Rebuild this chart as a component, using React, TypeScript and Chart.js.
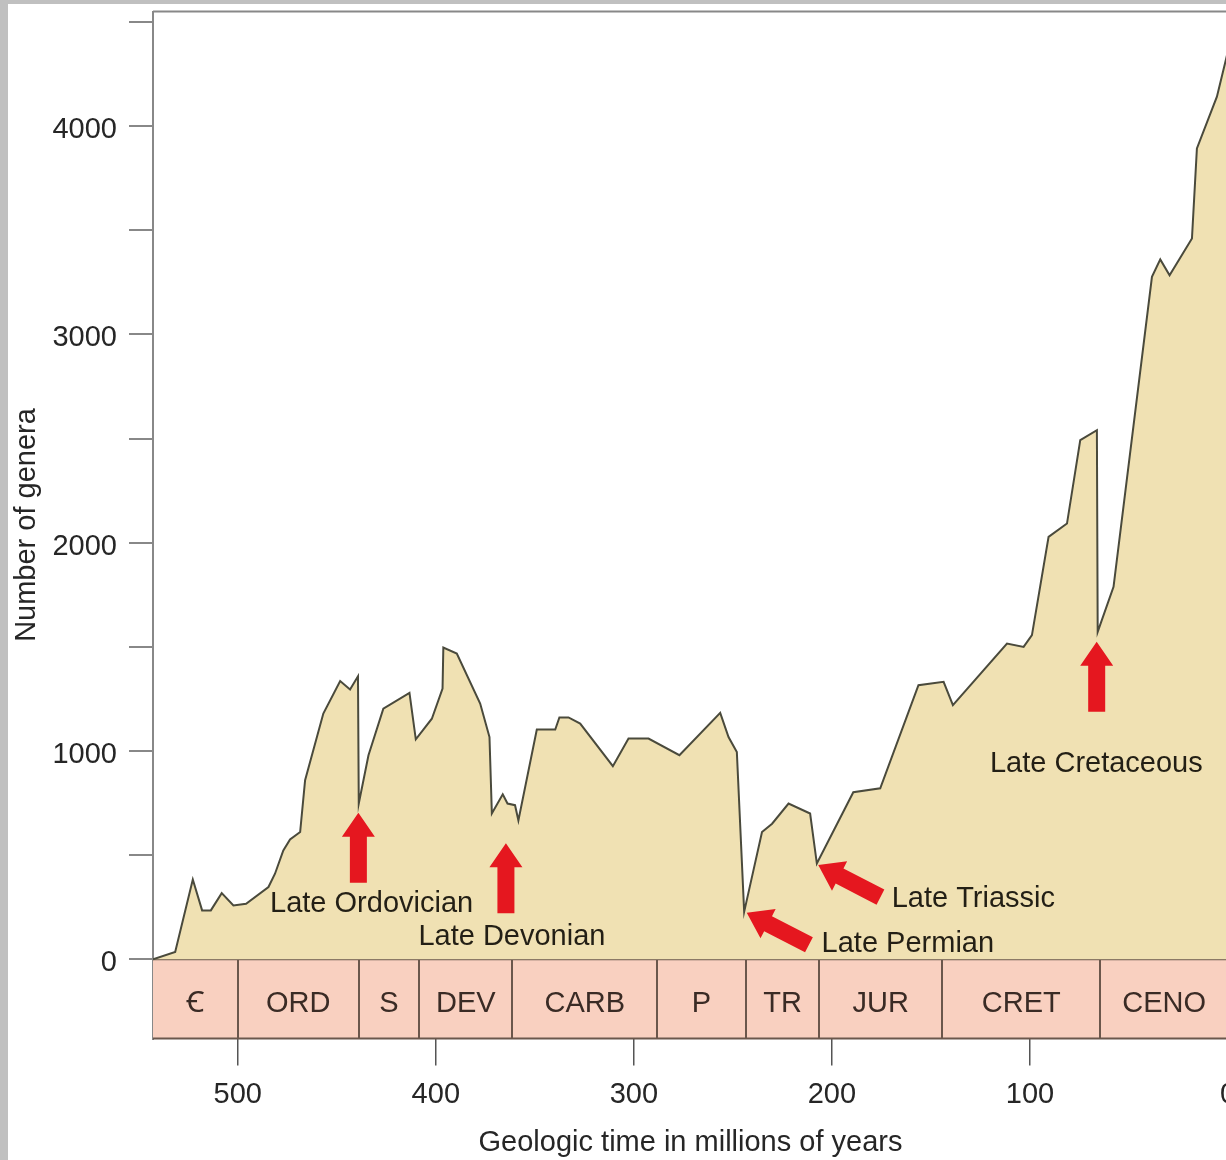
import React, { useEffect, useRef } from 'react';
import { Chart, registerables } from 'chart.js';

Chart.register(...registerables);

// ---- data (millions of years ago, number of genera) ----
const ageMa = [
  542.8, 531.6, 522.7, 518, 513.6, 508.1, 502.2, 495.8, 484.5, 481.2, 477, 473.6, 468.5, 466,
  456.8, 448.3, 443.3, 439.3, 438.9, 434, 426.5, 413.3, 410.1, 402, 396.6, 396.2, 389.4, 377.6,
  372.9, 371.7, 366.2, 363.8, 360, 358.3, 349, 339.7, 337.6, 333, 327.1, 310.6, 302.7, 292.6,
  277, 256.4, 252.2, 248, 244.3, 235.3, 230.2, 221.9, 211, 207.6, 189.2, 175.6, 156.3, 143.6,
  138.9, 111.6, 103.2, 99, 90.6, 81.3, 74.6, 66.2, 65.8, 57.8, 38.4, 34.2, 29.5, 18.2, 15.7,
  5.6, 0,
];
const genera = [
  0, 35, 383, 235, 235, 318, 259, 267, 347, 411, 523, 575, 611, 860,
  1180, 1336, 1295, 1359, 748, 980, 1203, 1279, 1056, 1155, 1300, 1497, 1468, 1228,
  1067, 700, 792, 748, 740, 667, 1103, 1103, 1161, 1161, 1132, 927, 1060, 1060,
  980, 1183, 1067, 995, 228, 611, 651, 748, 700, 460, 802, 821, 1316, 1332,
  1220, 1516, 1500, 1556, 2028, 2092, 2492, 2540, 1572, 1788, 3276, 3360, 3284, 3460, 3893,
  4141, 4360,
];

// geologic periods (boundaries in Ma, oldest first)
const periodBounds = [542.8, 500, 439, 408.3, 361.4, 288.2, 243.5, 206.4, 144.3, 64.5, 0];
const periodLabels = ['Ꞓ', 'ORD', 'S', 'DEV', 'CARB', 'P', 'TR', 'JUR', 'CRET', 'CENO'];

// axis ticks
const xTickValues = [0, 100, 200, 300, 400, 500];
const yTickValues = [0, 500, 1000, 1500, 2000, 2500, 3000, 3500, 4000, 4500];

// mass extinction events
const eventNames = ['Late Ordovician', 'Late Devonian', 'Late Permian', 'Late Triassic', 'Late Cretaceous'];
const eventTipMa = [439.1, 364.6, 243.0, 206.9, 66.3];
const eventTipGenera = [704, 557, 224, 453, 1525];
const eventLabelMa = [483.7, 408.8, 205.2, 169.8, 120.2];
const eventLabelGenera = [227, 69, 37, 253, 901];

const FONT = '"Liberation Sans", Arial, Helvetica, "Noto Sans", "DejaVu Sans", sans-serif';
const TEXT = '#262626';

function drawArrow(ctx: CanvasRenderingContext2D, tx: number, ty: number, dx: number, dy: number) {
  const L = 70, HL = 24, HW = 16.5, SW = 8.5;
  const px = -dy, py = dx;
  const bx = tx - dx * HL, by = ty - dy * HL;
  const ex = tx - dx * L, ey = ty - dy * L;
  ctx.beginPath();
  ctx.moveTo(tx, ty);
  ctx.lineTo(bx + px * HW, by + py * HW);
  ctx.lineTo(bx + px * SW, by + py * SW);
  ctx.lineTo(ex + px * SW, ey + py * SW);
  ctx.lineTo(ex - px * SW, ey - py * SW);
  ctx.lineTo(bx - px * SW, by - py * SW);
  ctx.lineTo(bx - px * HW, by - py * HW);
  ctx.closePath();
  ctx.fill();
}

const decorPlugin = {
  id: 'decor',
  beforeDatasetsDraw(chart: any) {
    const { ctx, chartArea, scales } = chart;
    const x = scales.x, y = scales.y;
    const top = y.getPixelForValue(0);
    const bottom = chartArea.bottom;
    ctx.save();
    // period boxes
    for (let i = 0; i < periodLabels.length; i++) {
      const x0 = x.getPixelForValue(periodBounds[i]);
      const x1 = x.getPixelForValue(periodBounds[i + 1]);
      ctx.fillStyle = '#f9d0c0';
      ctx.fillRect(x0, top, x1 - x0, bottom - top);
    }
    ctx.strokeStyle = '#6b574c';
    ctx.lineWidth = 2;
    ctx.beginPath();
    ctx.moveTo(chartArea.left, top);
    ctx.lineTo(chartArea.right, top);
    ctx.moveTo(chartArea.left, bottom);
    ctx.lineTo(chartArea.right, bottom);
    for (let i = 1; i < periodBounds.length; i++) {
      const xb = Math.round(x.getPixelForValue(periodBounds[i]));
      ctx.moveTo(xb, top);
      ctx.lineTo(xb, bottom);
    }
    ctx.stroke();
    ctx.fillStyle = '#3a2b25';
    ctx.font = `29px ${FONT}`;
    ctx.textAlign = 'center';
    ctx.textBaseline = 'alphabetic';
    const base = top + (bottom - top) * 0.67;
    for (let i = 0; i < periodLabels.length; i++) {
      const x0 = x.getPixelForValue(periodBounds[i]);
      const x1 = x.getPixelForValue(periodBounds[i + 1]);
      ctx.fillText(periodLabels[i], (x0 + x1) / 2, base);
    }
    // top frame line
    ctx.strokeStyle = '#888888';
    ctx.lineWidth = 2;
    ctx.beginPath();
    ctx.moveTo(chartArea.left, chartArea.top);
    ctx.lineTo(chartArea.right + 40, chartArea.top);
    ctx.stroke();
    ctx.restore();
  },
  afterDatasetsDraw(chart: any) {
    const { ctx, scales } = chart;
    const x = scales.x, y = scales.y;
    ctx.save();
    ctx.fillStyle = '#e5171f';
    const ang = (27.3 * Math.PI) / 180;
    for (let i = 0; i < eventNames.length; i++) {
      const tx = x.getPixelForValue(eventTipMa[i]);
      const ty = y.getPixelForValue(eventTipGenera[i]);
      const diagonal = i === 2 || i === 3;
      if (diagonal) drawArrow(ctx, tx, ty, -Math.cos(ang), -Math.sin(ang));
      else drawArrow(ctx, tx, ty, 0, -1);
    }
    ctx.fillStyle = '#231f15';
    ctx.font = `29px ${FONT}`;
    ctx.textAlign = 'left';
    ctx.textBaseline = 'alphabetic';
    for (let i = 0; i < eventNames.length; i++) {
      ctx.fillText(eventNames[i], x.getPixelForValue(eventLabelMa[i]), y.getPixelForValue(eventLabelGenera[i]));
    }
    ctx.restore();
  },
};

export default function App() {
  const ref = useRef<HTMLCanvasElement>(null);
  useEffect(() => {
    const canvas = ref.current;
    if (!canvas) return;
    const chart = new Chart(canvas, {
      type: 'line',
      data: {
        datasets: [
          {
            data: ageMa.map((a, i) => ({ x: a, y: genera[i] })),
            borderColor: '#4a4a3c',
            borderWidth: 2,
            backgroundColor: '#f0e1b3',
            fill: 'origin',
            pointRadius: 0,
            tension: 0,
          },
        ],
      },
      options: {
        responsive: false,
        animation: false,
        devicePixelRatio: 1,
        layout: { padding: { top: 7.5, right: 30, left: 0, bottom: 0 } },
        plugins: { legend: { display: false }, tooltip: { enabled: false } },
        scales: {
          x: {
            type: 'linear',
            reverse: true,
            min: 0,
            max: 542.8,
            afterBuildTicks: (s: any) => {
              s.ticks = xTickValues.map((v) => ({ value: v }));
            },
            afterFit: (s: any) => {
              s.height = 121.5;
              s.paddingLeft = 0;
              s.paddingRight = 0;
              s.paddingTop = 0;
              s.paddingBottom = 0;
            },
            grid: { display: true, drawOnChartArea: false, drawTicks: true, tickLength: 27, color: '#555555', lineWidth: 1.5 },
            border: { display: false },
            ticks: {
              autoSkip: false,
              maxRotation: 0,
              padding: 12,
              color: TEXT,
              font: { family: FONT, size: 29 },
              callback: (v: any) => String(v),
            },
            title: {
              display: true,
              text: 'Geologic time in millions of years',
              color: TEXT,
              font: { family: FONT, size: 29 },
              padding: { top: 0, bottom: 0 },
            },
          },
          y: {
            type: 'linear',
            min: -380,
            max: 4550,
            afterBuildTicks: (s: any) => {
              s.ticks = yTickValues.map((v) => ({ value: v }));
            },
            afterFit: (s: any) => {
              s.width = 145;
              s.paddingTop = 0;
              s.paddingBottom = 0;
            },
            grid: { display: true, drawOnChartArea: false, drawTicks: true, tickLength: 24, color: '#888888', lineWidth: 2 },
            border: { display: true, color: '#888888', width: 2 },
            ticks: {
              autoSkip: false,
              padding: 12,
              labelOffset: 4,
              color: TEXT,
              font: { family: FONT, size: 29 },
              callback: (v: any) => (Number(v) % 1000 === 0 ? String(v) : ''),
            },
            title: {
              display: true,
              text: 'Number of genera',
              color: TEXT,
              font: { family: FONT, size: 29 },
              padding: { top: 2, bottom: 0 },
            },
          },
        },
      },
      plugins: [decorPlugin],
    } as any);
    return () => chart.destroy();
  }, []);
  return (
    <div
      style={{
        position: 'fixed',
        left: 0,
        top: 0,
        width: 1226,
        height: 1160,
        overflow: 'hidden',
        background: '#c0c0c0',
      }}
    >
      <div style={{ position: 'absolute', left: 8, top: 4, width: 1250, height: 1156, background: '#ffffff' }}>
        <canvas ref={ref} width={1250} height={1156} style={{ display: 'block' }} />
      </div>
    </div>
  );
}
